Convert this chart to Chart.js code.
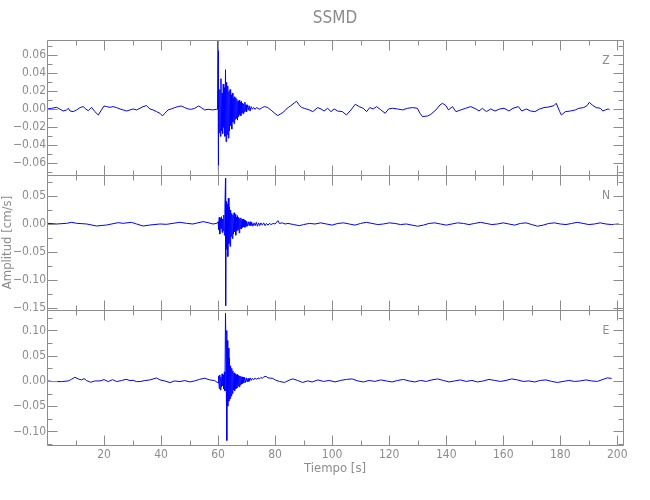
<!DOCTYPE html>
<html>
<head>
<meta charset="utf-8">
<script src="https://cdn.jsdelivr.net/npm/chart.js@4.4.0/dist/chart.umd.min.js"></script>
<style>
  html, body { margin: 0; padding: 0; background: #fff; }
</style>
</head>
<body>
<canvas id="sismo" width="650" height="500"></canvas>
<script>
const canales = ['Z', 'N', 'E'];

const zTiempo = [
  0.2, 1.6, 3.4, 4.6, 5.7, 6.9, 7.5, 8.1, 9.2, 10.4,
  11.6, 12.7, 13.7, 14.5, 15.6, 16.8, 18.0, 19.1, 20.0, 20.9,
  22.1, 23.2, 24.4, 25.6, 26.7, 27.9, 29.1, 30.2, 31.4, 32.6,
  33.7, 34.9, 36.1, 37.2, 38.4, 39.6, 40.5, 41.3, 42.5, 43.6,
  44.8, 46.0, 47.1, 48.3, 49.5, 50.6, 51.8, 53.2, 54.1, 55.3,
  56.5, 58.2, 59.4,
  59.8, 60.0, 60.05, 60.2, 60.4, 60.6, 60.8, 61.0, 61.2, 61.4,
  61.6, 61.8, 62.0, 62.2, 62.4, 62.6, 62.8, 63.0, 63.2, 63.4,
  63.6, 63.8, 64.0, 64.2, 64.4, 64.6, 64.8, 65.0, 65.2, 65.4,
  65.6, 65.8, 66.0, 66.2, 66.4, 66.6, 66.8, 67.0, 67.2, 67.4,
  67.6, 67.8, 68.0, 68.2, 68.4, 68.6, 68.8, 69.0, 69.2, 69.4,
  69.6, 69.8, 70.0, 70.3, 70.6, 70.9, 71.2, 71.6, 72.0, 72.5,
  73.0, 73.5, 74.0, 74.6, 75.5, 76.3, 77.4, 78.6, 79.7, 80.9,
  82.0, 83.0, 83.8, 84.6, 85.5, 86.7, 87.5, 88.4, 89.3, 90.3,
  92.0, 93.2, 94.9, 96.1, 97.2, 98.4, 99.6, 100.7, 101.9, 103.6,
  105.0, 106.6, 108.1, 109.5, 110.9, 112.1, 113.2, 114.4, 115.6, 117.1,
  118.6, 119.8, 121.2, 122.9, 124.7, 126.4, 128.2, 129.9, 130.8, 131.7,
  133.5, 134.6, 136.4, 137.8, 138.7, 139.9, 140.8, 142.2, 143.4, 145.1,
  146.8, 148.6, 150.4, 151.5, 152.7, 154.1, 155.6, 157.1, 158.8, 160.3,
  162.0, 163.4, 165.3, 166.5, 168.1, 169.6, 171.1, 172.8, 174.3, 176.0,
  177.8, 178.6, 179.8, 180.4, 181.8, 183.6, 185.3, 186.5, 188.2, 189.4,
  190.2, 191.2, 192.6, 194.1, 194.9, 195.8, 196.8, 197.3
];
const zAmp = [
  0.0004, 0.0011, 0.0022, 0.0000, -0.0019, -0.0007, 0.0011, -0.0019, -0.0026, -0.0007,
  0.0019, 0.0030, 0.0000, -0.0015, 0.0022, -0.0026, -0.0063, -0.0007, 0.0037, 0.0030,
  0.0022, 0.0030, 0.0019, 0.0004, -0.0007, -0.0019, -0.0007, 0.0004, -0.0007, 0.0011,
  0.0030, 0.0041, 0.0004, -0.0007, -0.0026, -0.0044, -0.0074, -0.0044, -0.0007, 0.0004,
  0.0019, 0.0030, 0.0037, 0.0019, 0.0004, 0.0000, 0.0011, 0.0037, 0.0019, -0.0007,
  0.0000, -0.0007, 0.0000,
  0.000, 0.077, -0.068, 0.030, -0.026, 0.022, -0.030, 0.034, -0.024, 0.018,
  -0.027, 0.028, -0.020, 0.024, -0.030, 0.044, -0.036, 0.030, -0.028, 0.026,
  -0.032, 0.020, -0.024, 0.022, -0.018, 0.016, -0.022, 0.018, -0.014, 0.012,
  -0.016, 0.014, -0.011, 0.013, -0.010, 0.011, -0.012, 0.009, -0.008, 0.010,
  -0.006, 0.008, -0.007, 0.009, -0.004, 0.007, -0.005, 0.006, -0.003, 0.008,
  -0.002, 0.005, -0.003, 0.005, -0.001, 0.004, -0.002, 0.003, 0.000, 0.002,
  0.000, 0.002, 0.001, 0.000, 0.002, 0.003, 0.002, -0.001, -0.004, -0.007,
  -0.005, -0.003, 0.000, 0.002, 0.004, 0.007, 0.009, 0.005, 0.002, 0.001,
  -0.0007, -0.0026, 0.0019, 0.0004, -0.0019, 0.0011, -0.0026, 0.0004, -0.0019, -0.0026,
  -0.0063, -0.0007, 0.0056, 0.0030, 0.0011, -0.0026, 0.0019, 0.0004, 0.0030, -0.0007,
  -0.0044, 0.0004, 0.0011, 0.0004, -0.0007, 0.0011, 0.0019, 0.0011, -0.0044, -0.0081,
  -0.0074, -0.0056, -0.0007, 0.0048, 0.0067, 0.0041, -0.0007, 0.0030, -0.0026, -0.0007,
  0.0011, 0.0030, 0.0004, -0.0019, 0.0011, -0.0026, 0.0004, -0.0019, 0.0004, 0.0011,
  -0.0019, 0.0011, 0.0030, -0.0019, 0.0004, -0.0019, -0.0026, 0.0004, 0.0019, 0.0026,
  0.0041, 0.0067, -0.0026, -0.0063, -0.0026, -0.0019, -0.0007, 0.0011, 0.0019, 0.0041,
  0.0078, 0.0048, 0.0019, 0.0011, -0.0019, -0.0007, 0.0004, -0.0007
];

const nTiempo = [
  0.2, 3.4, 6.9, 8.6, 10.4, 13.9, 17.4, 20.9, 25.0, 26.7,
  29.6, 31.4, 33.7, 36.1, 39.6, 41.9, 44.2, 46.6, 48.9, 51.2,
  54.7, 56.5, 58.2, 59.6,
  60.0, 60.2, 60.4, 60.6, 60.8, 61.0, 61.2, 61.4, 61.6, 61.8,
  62.0, 62.2, 62.4, 62.6, 62.65, 62.8, 63.0, 63.2, 63.4, 63.6,
  63.8, 64.0, 64.2, 64.4, 64.6, 64.8, 65.0, 65.2, 65.4, 65.6,
  65.8, 66.0, 66.2, 66.4, 66.6, 66.8, 67.0, 67.2, 67.4, 67.6,
  67.8, 68.0, 68.2, 68.4, 68.6, 68.8, 69.0, 69.2, 69.4, 69.6,
  69.8, 70.0, 70.3, 70.6, 70.9, 71.2, 71.5, 71.8, 72.2, 72.6,
  73.0, 73.4, 73.8, 74.2, 74.6, 75.0, 75.5, 76.0, 76.5, 77.0,
  77.5, 78.0, 78.6, 79.3, 80.0, 81.0, 81.5, 82.5, 83.5, 84.5,
  86.5, 88.5, 90.0, 92.0, 94.0, 96.0, 98.0, 100.0, 102.0, 104.0,
  106.0, 108.0, 110.0, 112.0, 114.0, 116.0, 118.0, 120.0, 122.0, 124.0,
  126.0, 128.0, 130.0, 132.0, 134.0, 136.0, 138.0, 140.0, 142.0, 144.0,
  146.0, 148.0, 150.0, 152.0, 154.0, 156.0, 158.0, 160.0, 162.0, 164.0,
  166.0, 168.0, 170.0, 172.0, 174.0, 176.0, 178.0, 180.0, 182.0, 184.0,
  186.0, 188.0, 190.0, 192.0, 194.0, 196.0, 198.0, 200.5
];
const nAmp = [
  0.0012, 0.0000, 0.0012, 0.0030, 0.0012, 0.0000, -0.0036, -0.0018, 0.0024, 0.0012,
  0.0030, 0.0000, -0.0036, -0.0018, 0.0000, -0.0006, 0.0012, 0.0030, 0.0012, 0.0000,
  0.0042, 0.0024, 0.0000, 0.0012,
  0.004, -0.010, 0.012, -0.018, 0.010, -0.008, 0.013, -0.015, 0.009, -0.012,
  0.016, -0.020, 0.030, 0.082, -0.146, 0.040, -0.045, 0.035, -0.058, 0.046,
  -0.035, 0.030, -0.040, 0.025, -0.022, 0.019, -0.026, 0.016, -0.018, 0.020,
  -0.014, 0.017, -0.020, 0.012, -0.012, 0.015, -0.010, 0.012, -0.016, 0.010,
  -0.008, 0.011, -0.009, 0.008, -0.006, 0.009, -0.005, 0.007, -0.006, 0.006,
  -0.004, 0.005, -0.004, 0.004, -0.003, 0.004, -0.003, 0.003, -0.004, 0.002,
  -0.003, 0.003, -0.004, 0.002, -0.003, 0.002, -0.002, 0.002, -0.003, 0.001,
  -0.002, 0.001, -0.001, 0.001, 0.000, 0.006, 0.001, 0.002, 0.000, 0.001,
  -0.001, -0.003, -0.001, 0.001, 0.000, 0.002, 0.000, -0.002, 0.001, 0.002,
  0.000, -0.002, 0.001, 0.003, 0.001, -0.001, 0.000, 0.002, 0.001, -0.001,
  0.000, -0.002, -0.004, -0.002, 0.001, 0.002, 0.000, -0.002, 0.000, 0.002,
  0.001, -0.001, 0.001, 0.003, 0.001, -0.001, 0.000, 0.002, 0.000, -0.002,
  0.001, 0.002, -0.001, -0.004, -0.002, 0.001, 0.002, 0.000, -0.001, 0.001,
  0.003, 0.001, -0.001, 0.000, 0.002, 0.000, -0.001, 0.000
];

const eTiempo = [
  0.2, 2.2, 5.1, 7.5, 8.6, 9.8, 11.0, 12.1, 13.0, 13.9,
  15.3, 16.8, 18.6, 20.0, 21.5, 23.0, 24.4, 26.1, 27.7, 29.1,
  30.2, 31.4, 32.6, 34.3, 36.1, 38.4, 39.6, 41.3, 43.1, 44.8,
  46.6, 48.3, 50.1, 51.8, 53.6, 55.3, 57.1, 58.8,
  60.0, 60.2, 60.4, 60.6, 60.8, 61.0, 61.2, 61.4, 61.6, 61.8,
  62.0, 62.2, 62.4, 62.6, 62.8, 63.0, 63.1, 63.2, 63.4, 63.6,
  63.8, 64.0, 64.2, 64.4, 64.6, 64.8, 65.0, 65.2, 65.4, 65.6,
  65.8, 66.0, 66.2, 66.4, 66.6, 66.8, 67.0, 67.2, 67.4, 67.6,
  67.8, 68.0, 68.2, 68.4, 68.6, 68.8, 69.0, 69.3, 69.6, 69.9,
  70.2, 70.5, 70.8, 71.2, 71.6, 72.0, 72.5, 73.0, 73.5, 74.0,
  74.5, 75.0, 75.5, 76.0, 76.9, 77.5, 79.2, 80.0, 81.5, 83.3,
  85.1, 86.2, 87.9, 89.6, 91.4,
  93, 95, 97, 99, 101, 103, 105, 107, 109, 111,
  113, 115, 117, 119, 121, 123, 125, 127, 129, 131,
  133, 135, 137, 139, 141, 143, 145, 147, 149, 151,
  153, 155, 157, 159, 161, 163, 165, 167, 169, 171,
  173, 175, 177, 179, 181, 183, 185, 187, 189, 191,
  193, 195, 196.5, 198
];
const eAmp = [
  0.0000, -0.0013, -0.0013, 0.0000, 0.0033, 0.0072, 0.0039, 0.0020, 0.0046, 0.0007,
  -0.0026, 0.0000, 0.0000, 0.0026, -0.0013, 0.0026, -0.0013, 0.0007, 0.0033, 0.0007,
  0.0013, -0.0013, -0.0013, 0.0007, 0.0020, 0.0059, 0.0020, 0.0000, -0.0033, 0.0000,
  -0.0013, 0.0007, -0.0020, 0.0000, 0.0033, 0.0053, 0.0020, 0.0007,
  -0.004, 0.010, -0.015, 0.012, -0.018, 0.008, -0.012, 0.014, -0.010, 0.012,
  -0.016, 0.018, -0.020, 0.134, 0.040, 0.100, -0.118, 0.080, -0.050, 0.065,
  -0.040, 0.045, -0.035, 0.030, -0.030, 0.025, -0.025, 0.020, -0.018, 0.016,
  -0.020, 0.014, -0.016, 0.012, -0.014, 0.013, -0.010, 0.011, -0.012, 0.010,
  -0.008, 0.009, -0.006, 0.008, -0.005, 0.007, -0.004, 0.007, -0.003, 0.006,
  -0.002, 0.005, -0.001, 0.006, 0.001, 0.005, 0.002, 0.006, 0.003, 0.006,
  0.004, 0.007, 0.005, 0.008, 0.009, 0.006, 0.005, 0.002, -0.001, -0.003,
  0.002, 0.004, 0.001, -0.003, 0.000,
  -0.002, 0.002, -0.001, 0.001, -0.002, 0.001, 0.003, 0.004, 0.000, -0.002,
  0.001, -0.001, 0.002, 0.000, -0.002, 0.001, 0.003, 0.000, -0.002, 0.001,
  -0.001, 0.002, 0.004, 0.001, -0.002, 0.000, 0.002, -0.001, 0.001, -0.002,
  0.000, 0.003, 0.001, -0.001, 0.001, 0.004, 0.002, -0.001, 0.000, -0.002,
  0.001, 0.002, -0.001, -0.003, -0.001, 0.001, -0.001, 0.000, 0.002, 0.000,
  -0.001, 0.003, 0.006, 0.005
];

// rangos y marcas de los ejes
const xRango = [0, 202];
const xMarcas = [20, 40, 60, 80, 100, 120, 140, 160, 180, 200];
const xMenores = [10, 30, 50, 70, 90, 110, 130, 150, 170, 190];

const zRango = [-0.073, 0.077];
const zMarcas = [-0.06, -0.04, -0.02, 0, 0.02, 0.04, 0.06];
const zMenores = [-0.07, -0.05, -0.03, -0.01, 0.01, 0.03, 0.05, 0.07];

const nRango = [-0.1536, 0.0875];
const nMarcas = [-0.15, -0.10, -0.05, 0, 0.05];
const nMenores = [-0.125, -0.075, -0.025, 0.025, 0.075];

const eRango = [-0.127, 0.1406];
const eMarcas = [-0.10, -0.05, 0, 0.05, 0.10];
const eMenores = [-0.125, -0.075, -0.025, 0.025, 0.075, 0.125];

// --- estilo ---
const FUENTE = "'Liberation Sans Narrow', 'DejaVu Sans Condensed', 'Liberation Sans', sans-serif";
const GRIS = '#8c8c8c';
const AZUL = '#0000ff';

function serie(t, a) {
  return t.map((x, i) => ({ x: x, y: a[i] }));
}

function etiqueta(v) {
  const s = Math.abs(v).toFixed(2);
  return (v < -1e-9 ? '\u2212' : '') + s;
}

function ejeY(rango, marcas, peso, titulo) {
  return {
    type: 'linear',
    position: 'left',
    stack: 'paneles',
    stackWeight: 1,
    weight: peso,
    min: rango[0],
    max: rango[1],
    grid: { display: false, drawTicks: false },
    border: { display: false },
    afterBuildTicks: s => { s.ticks = marcas.map(v => ({ value: v })); },
    afterFit: s => { s.width = 47; },
    ticks: {
      autoSkip: false,
      padding: 1,
      color: GRIS,
      font: { family: FUENTE, size: 12 },
      callback: v => etiqueta(v)
    },
    title: titulo ? {
      display: true,
      text: titulo,
      color: GRIS,
      font: { family: FUENTE, size: 13 },
      padding: { top: 0, bottom: 0 }
    } : { display: false }
  };
}

const paneles = [
  { id: 'yZ', nombre: canales[0], marcas: zMarcas, menores: zMenores },
  { id: 'yN', nombre: canales[1], marcas: nMarcas, menores: nMenores },
  { id: 'yE', nombre: canales[2], marcas: eMarcas, menores: eMenores }
];

// marco, marcas hacia dentro y nombre de cada canal
const marcoPaneles = {
  id: 'marcoPaneles',
  afterDatasetsDraw(chart) {
    const ctx = chart.ctx;
    const x = chart.scales.x;
    const L = Math.round(x.left) + 0.5;
    const R = Math.round(x.right) + 0.5;
    ctx.save();
    ctx.strokeStyle = GRIS;
    ctx.lineWidth = 1;
    paneles.forEach(p => {
      const y = chart.scales[p.id];
      const T = Math.round(y.top) + 0.5;
      const B = Math.round(y.bottom) + 0.5;
      ctx.beginPath();
      ctx.rect(L, T, R - L, B - T);
      const marcaX = (v, len) => {
        const px = Math.round(x.getPixelForValue(v)) + 0.5;
        ctx.moveTo(px, T); ctx.lineTo(px, T + len);
        ctx.moveTo(px, B); ctx.lineTo(px, B - len);
      };
      const marcaY = (v, len) => {
        const py = Math.round(y.getPixelForValue(v)) + 0.5;
        ctx.moveTo(L, py); ctx.lineTo(L + len, py);
        ctx.moveTo(R, py); ctx.lineTo(R - len, py);
      };
      xMarcas.forEach(v => marcaX(v, 10));
      xMenores.forEach(v => marcaX(v, 5));
      p.marcas.forEach(v => marcaY(v, 10));
      p.menores.forEach(v => marcaY(v, 5));
      ctx.stroke();

      ctx.fillStyle = GRIS;
      ctx.font = '12px ' + FUENTE;
      ctx.textAlign = 'center';
      ctx.textBaseline = 'middle';
      ctx.fillText(p.nombre, x.right - 17, y.top + 21);
    });
    ctx.restore();
  }
};

const linea = {
  borderColor: AZUL,
  borderWidth: 1,
  pointRadius: 0,
  tension: 0,
  fill: false
};

new Chart(document.getElementById('sismo'), {
  type: 'line',
  data: {
    datasets: [
      Object.assign({ label: 'Z', data: serie(zTiempo, zAmp), yAxisID: 'yZ' }, linea),
      Object.assign({ label: 'N', data: serie(nTiempo, nAmp), yAxisID: 'yN' }, linea),
      Object.assign({ label: 'E', data: serie(eTiempo, eAmp), yAxisID: 'yE' }, linea)
    ]
  },
  options: {
    responsive: false,
    animation: false,
    layout: { padding: { top: 0, right: 27, bottom: 0, left: 0 } },
    plugins: {
      legend: { display: false },
      tooltip: { enabled: false },
      title: {
        display: true,
        text: 'SSMD',
        fullSize: false,
        color: GRIS,
        font: { family: FUENTE, size: 17, weight: 'normal' },
        padding: { top: 8, bottom: 11.6 }
      }
    },
    scales: {
      x: {
        type: 'linear',
        position: 'bottom',
        min: xRango[0],
        max: xRango[1],
        grid: { display: false, drawTicks: false },
        border: { display: false },
        afterBuildTicks: s => { s.ticks = xMarcas.map(v => ({ value: v })); },
        afterFit: s => { s.height = 55; },
        ticks: {
          autoSkip: false,
          maxRotation: 0,
          padding: 3,
          color: GRIS,
          font: { family: FUENTE, size: 12 }
        },
        title: {
          display: true,
          text: 'Tiempo [s]',
          color: GRIS,
          font: { family: FUENTE, size: 13 },
          padding: { top: 0, bottom: 24 }
        }
      },
      yE: ejeY(eRango, eMarcas, 1, null),
      yN: ejeY(nRango, nMarcas, 2, 'Amplitud [cm/s]'),
      yZ: ejeY(zRango, zMarcas, 3, null)
    }
  },
  plugins: [marcoPaneles]
});
</script>
</body>
</html>
